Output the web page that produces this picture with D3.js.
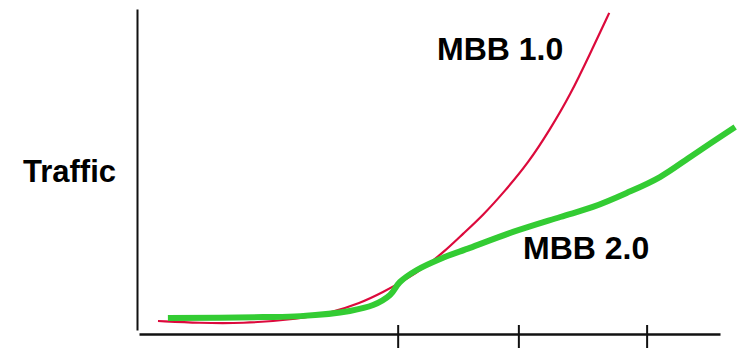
<!DOCTYPE html>
<html>
<head>
<meta charset="utf-8">
<script src="https://cdn.jsdelivr.net/npm/d3@7"></script>
<style>
  body { margin: 0; background: #fff; }
  text { font-family: "Liberation Sans", Arial, sans-serif; font-weight: bold; }
</style>
</head>
<body>
<div id="chart"></div>
<script>
// abstract time (0-100) vs traffic (0-100)
var mbb1X = [3.6, 10.8, 17.7, 28.0, 33.1, 38.3, 42.2, 46.0, 49.4, 52.8, 55.9, 59.4, 63.1, 67.1, 70.8, 74.3, 77.7, 81.0];
var mbb1Y = [4.0, 3.4, 3.2, 4.6, 6.5, 9.5, 12.9, 16.6, 20.6, 25.5, 30.8, 36.6, 44.0, 52.6, 62.8, 73.5, 86.2, 98.8];

var mbb2X = [5.3, 21.6, 28.0, 36.5, 40.5, 43.4, 45.1, 48.0, 52.0, 57.1, 64.5, 72.6, 78.2, 84.0, 89.7, 95.4, 102.6];
var mbb2Y = [4.9, 5.2, 5.5, 7.1, 8.9, 12.0, 16.0, 19.7, 23.1, 26.5, 31.4, 36.0, 39.1, 43.4, 48.3, 55.1, 63.7];

var xTicks = [44.8, 65.5, 87.5];
var labels = ["Traffic", "MBB 1.0", "MBB 2.0"];

var width = 737, height = 350;

var svg = d3.select("#chart").append("svg")
    .attr("width", width)
    .attr("height", height)

var x = d3.scaleLinear().domain([0, 100]).range([137, 720]);
var y = d3.scaleLinear().domain([0, 100]).range([334, 9]);

// y axis: plain line, no ticks
svg.append("g")
    .attr("transform", "translate(137,0)")
    .call(d3.axisLeft(d3.scaleLinear().domain([0, 1]).range([330, 9])).tickValues([]).tickSizeOuter(0))
    .select(".domain")
    .attr("stroke", "#111")
    .attr("stroke-width", 2)

// x axis with ticks crossing the line
var xAxis = svg.append("g")
    .attr("transform", "translate(0,334)")
    .call(d3.axisBottom(d3.scaleLinear().domain([0, 100]).range([139, 720])).tickValues([]).tickSizeOuter(0))
xAxis.select(".domain").attr("stroke", "#111").attr("stroke-width", 2.5)

svg.append("g").selectAll("line")
    .data(xTicks)
    .enter().append("line")
    .attr("x1", function (d) { return x(d); })
    .attr("x2", function (d) { return x(d); })
    .attr("y1", 325)
    .attr("y2", 348)
    .attr("stroke", "#111")
    .attr("stroke-width", 2)

var line = d3.line()
    .x(function (d) { return x(d[0]); })
    .y(function (d) { return y(d[1]); })

// red one is a plain convex curve, smooth it more
svg.append("path")
    .datum(d3.zip(mbb1X, mbb1Y))
    .attr("d", line.curve(d3.curveBasis))
    .attr("fill", "none")
    .attr("stroke", "#dc0a3c")
    .attr("stroke-width", 2.2)

svg.append("path")
    .datum(d3.zip(mbb2X, mbb2Y))
    .attr("d", line.curve(d3.curveCatmullRom.alpha(0.5)))
    .attr("fill", "none")
    .attr("stroke", "#33cc33")
    .attr("stroke-width", 6)

svg.append("text").attr("x", 23).attr("y", 182).style("font-size", "31px").text(labels[0])
svg.append("text").attr("x", 437).attr("y", 60).style("font-size", "32px").text(labels[1])
svg.append("text").attr("x", 523).attr("y", 259).style("font-size", "32px").text(labels[2])
</script>
</body>
</html>
